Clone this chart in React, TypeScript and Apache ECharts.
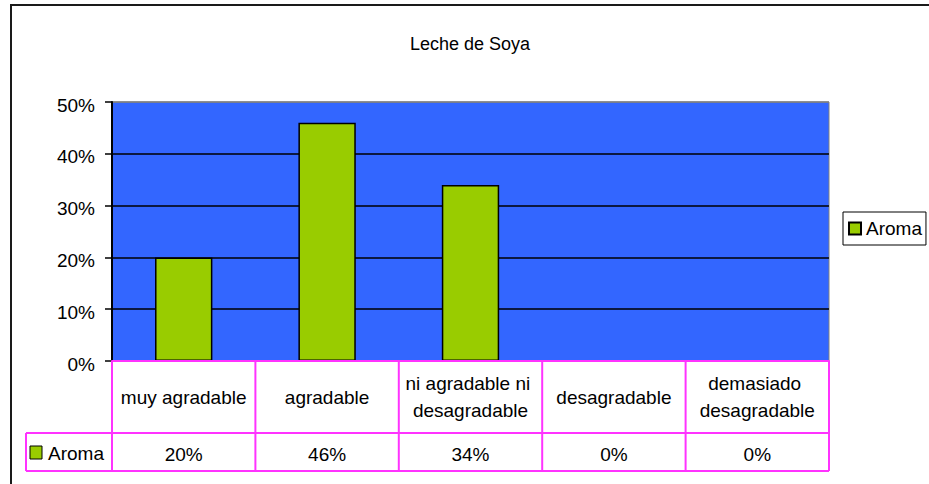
import React, { useEffect, useRef } from "react";
import * as echarts from "echarts";

const title = "Leche de Soya";
const seriesName = "Aroma";
const categories = [
  "muy agradable",
  "agradable",
  "ni agradable ni desagradable",
  "desagradable",
  "demasiado desagradable",
];
const values = [0.2, 0.46, 0.34, 0, 0];
const yMin = 0;
const yMax = 0.5;
const yStep = 0.1;

const W = 929;
const H = 484;
const gL = 112;
const gR = 829;
const gT = 102;
const gB = 361;
const rowMid = 433;
const rowBot = 471;
const keyL = 26;
const FS = 19;
const FONT = "'Liberation Sans', Arial, sans-serif";
const MAG = "#FF33FF";
const pct = (v: number) => `${Math.round(v * 100)}%`;

export default function App() {
  const ref = useRef<HTMLDivElement>(null);
  useEffect(() => {
    if (!ref.current) return;
    const chart = echarts.init(ref.current, undefined, { renderer: "svg" });
    const n = categories.length;
    const colW = (gR - gL) / n;
    const lines: any[] = [];
    const mk = (x1: number, y1: number, x2: number, y2: number) => ({
      type: "line",
      shape: { x1, y1, x2, y2 },
      style: { stroke: MAG, lineWidth: 2 },
      z: 20,
    });
    lines.push(mk(keyL, rowMid, gR, rowMid));
    lines.push(mk(keyL, rowBot, gR, rowBot));
    lines.push(mk(keyL, rowMid, keyL, rowBot));
    for (let i = 0; i <= n; i++) {
      const x = gL + i * colW;
      lines.push(mk(x, gB, x, rowBot));
    }
    chart.setOption({
      animation: false,
      backgroundColor: "#ffffff",
      textStyle: { fontFamily: FONT, color: "#000" },
      title: {
        text: title,
        left: 405,
        top: 28,
        textStyle: { fontFamily: FONT, fontSize: 18, fontWeight: "normal", color: "#000", lineHeight: 22 },
      },
      legend: {
        left: 843,
        top: 212,
        orient: "vertical",
        borderColor: "#000",
        borderWidth: 1,
        padding: [7, 4, 7, 5],
        itemWidth: 12,
        itemHeight: 12,
        itemGap: 5,
        icon: "rect",
        textStyle: { fontFamily: FONT, fontSize: FS, color: "#000" },
        data: [seriesName],
      },
      grid: {
        left: gL,
        top: gT,
        width: gR - gL,
        height: gB - gT,
        show: true,
        backgroundColor: "#3366FF",
        borderColor: "#808080",
        borderWidth: 1,
      },
      xAxis: [
        {
          type: "category",
          data: categories,
          position: "bottom",
          z: 10,
          axisLine: { show: true, lineStyle: { color: MAG, width: 2 } },
          axisTick: { show: false },
          axisLabel: {
            interval: 0,
            margin: 36,
            width: 138,
            overflow: "break",
            verticalAlign: "middle",
            lineHeight: 27,
            fontSize: FS,
            fontFamily: FONT,
            color: "#000",
          },
        },
        {
          type: "category",
          data: values.map(pct),
          position: "bottom",
          axisLine: { show: false },
          axisTick: { show: false },
          axisLabel: {
            interval: 0,
            margin: 93,
            verticalAlign: "middle",
            fontSize: FS,
            fontFamily: FONT,
            color: "#000",
          },
        },
      ],
      yAxis: {
        type: "value",
        min: yMin,
        max: yMax,
        interval: yStep,
        axisLine: { show: true, lineStyle: { color: "#000", width: 2 } },
        axisTick: { show: true, length: 7, lineStyle: { color: "#000", width: 1.5 } },
        axisLabel: {
          formatter: (v: number) => pct(v),
          margin: 17,
          fontSize: FS,
          fontFamily: FONT,
          color: "#000",
          verticalAlign: "top",
          lineHeight: 6,
        },
        splitLine: {
          show: true,
          lineStyle: { color: ["#000", "#000", "#000", "#000", "#000", "#808080"], width: 1.5 },
        },
      },
      series: [
        {
          name: seriesName,
          type: "bar",
          data: values,
          barWidth: "40%",
          itemStyle: { color: "#99CC00", borderColor: "#000", borderWidth: 1.5 },
        },
      ],
      graphic: [
        {
          type: "rect",
          shape: { x: 11, y: 5, width: 1000, height: 600 },
          style: { fill: "none", stroke: "#1a1a1a", lineWidth: 2 },
          silent: true,
          z: 30,
        },
        ...lines,
        {
          type: "rect",
          shape: { x: 30, y: 446, width: 12, height: 13 },
          style: { fill: "#99CC00", stroke: "#000", lineWidth: 1 },
          z: 21,
        },
        {
          type: "text",
          x: 48,
          y: 453,
          style: { text: seriesName, fontSize: FS, fontFamily: FONT, fill: "#000", verticalAlign: "middle", align: "left" },
          z: 21,
        },
      ],
    });
    return () => chart.dispose();
  }, []);
  return <div ref={ref} style={{ position: "fixed", left: 0, top: 0, width: W, height: H }} />;
}
